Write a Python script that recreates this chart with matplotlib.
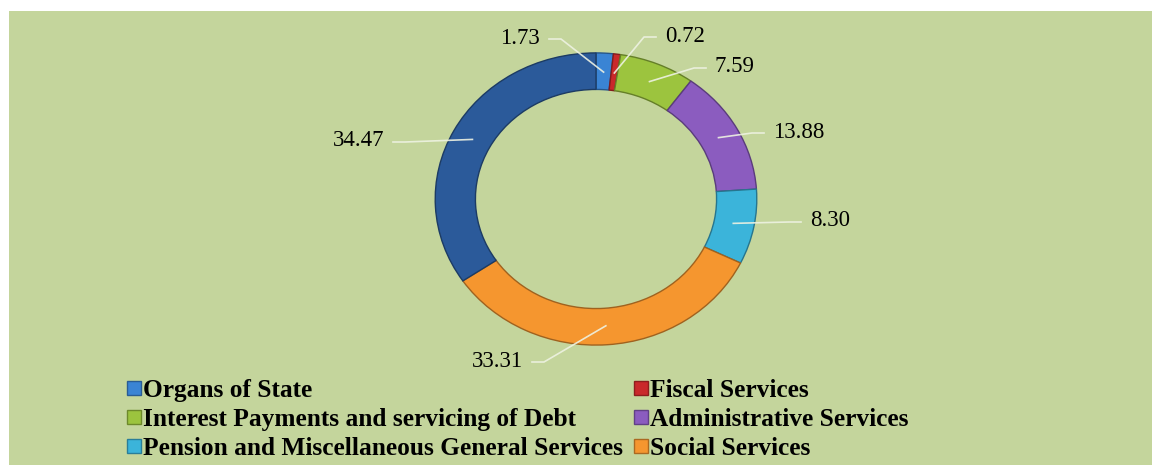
import matplotlib.pyplot as plt
from matplotlib.patches import Patch, Rectangle
from matplotlib.lines import Line2D
from matplotlib.colors import to_rgb
import numpy as np

# share of expenditure (%), clockwise from 12 o'clock
categories = ["Organs of State",
              "Fiscal Services",
              "Interest Payments and servicing of Debt",
              "Administrative Services",
              "Pension and Miscellaneous General Services",
              "Social Services",
              "Economic Services"]
values = [1.73, 0.72, 7.59, 13.88, 8.30, 33.31, 34.47]
value_labels = ["1.73", "0.72", "7.59", "13.88", "8.30", "33.31", "34.47"]
in_legend = [True, True, True, True, True, True, False]

colors = ["#3a84d4", "#c9292b", "#9cc43e", "#8b5cbf", "#3bb4da", "#f5962f", "#2b5a9a"]

# label text edge (figure pixels from top-left) and which side the text sits on
label_pos = [(540, 38), (665, 36), (715, 67), (773, 132), (810, 221), (523, 361), (384, 141)]
label_side = ["left", "right", "right", "right", "right", "left", "left"]

W, H = 1152, 465
fig = plt.figure(figsize=(W / 100, H / 100), dpi=100)
fig.patch.set_facecolor("white")
fig.add_artist(Rectangle((9 / W, 0), 1 - 9 / W, 1 - 11 / H, transform=fig.transFigure,
                         facecolor="#c4d59c", edgecolor="none", zorder=0))

# donut axes (slightly wider than tall, like the 3D look of the original)
ax = fig.add_axes([432 / W, 117 / H, 328 / W, 298 / H])
ax.set_facecolor("none")

def darker(c, f=0.65):
    r, g, b = to_rgb(c)
    return (r * f, g * f, b * f)

wedges, _ = ax.pie(values, colors=colors, startangle=90, counterclock=False,
                   radius=1.0, wedgeprops=dict(width=0.25, linewidth=1.0))
for w, c in zip(wedges, colors):
    w.set_edgecolor(darker(c))
ax.set_aspect("auto")
ax.set_xlim(-1.02, 1.02)
ax.set_ylim(-1.02, 1.02)
ax.axis("off")

# labels with leader lines
total = sum(values)
cum = 0
for v, txt, (lx, ly), side in zip(values, value_labels, label_pos, label_side):
    mid = 90 - (cum + v / 2) / total * 360
    cum += v
    r = 0.87
    ax_pt = ax.transData.transform((r * np.cos(np.radians(mid)), r * np.sin(np.radians(mid))))
    ypix = H - ly
    if side == "left":
        fig.text(lx / W, ypix / H, txt, ha="right", va="center",
                 family="Liberation Serif", fontsize=16.5, color="black")
        x0 = lx + 9
        x1 = x0 + 12
    else:
        fig.text(lx / W, ypix / H, txt, ha="left", va="center",
                 family="Liberation Serif", fontsize=16.5, color="black")
        x0 = lx - 9
        x1 = x0 - 12
    xs = [x0 / W, x1 / W, ax_pt[0] / W]
    ys = [(ypix - 1) / H, (ypix - 1) / H, ax_pt[1] / H]
    fig.add_artist(Line2D(xs, ys, transform=fig.transFigure, color="#eef2e2",
                          linewidth=1.2, alpha=0.9, zorder=5))

# legend, filled row by row like the original
handles = [Patch(facecolor=c, edgecolor=darker(c, 0.7), label=n)
           for n, c, show in zip(categories, colors, in_legend) if show]
order = [0, 2, 4, 1, 3, 5]
handles = [handles[i] for i in order]
fig.legend(handles=handles, loc="upper left", bbox_to_anchor=(127 / W, 1 - 379 / H),
           ncol=2, frameon=False, borderpad=0, borderaxespad=0,
           handlelength=0.55, handleheight=0.45, handletextpad=0.08,
           columnspacing=0.45, labelspacing=0.24,
           prop=dict(family="Liberation Serif", weight="bold", size=18.3))

fig.savefig("out.png", dpi=100)
